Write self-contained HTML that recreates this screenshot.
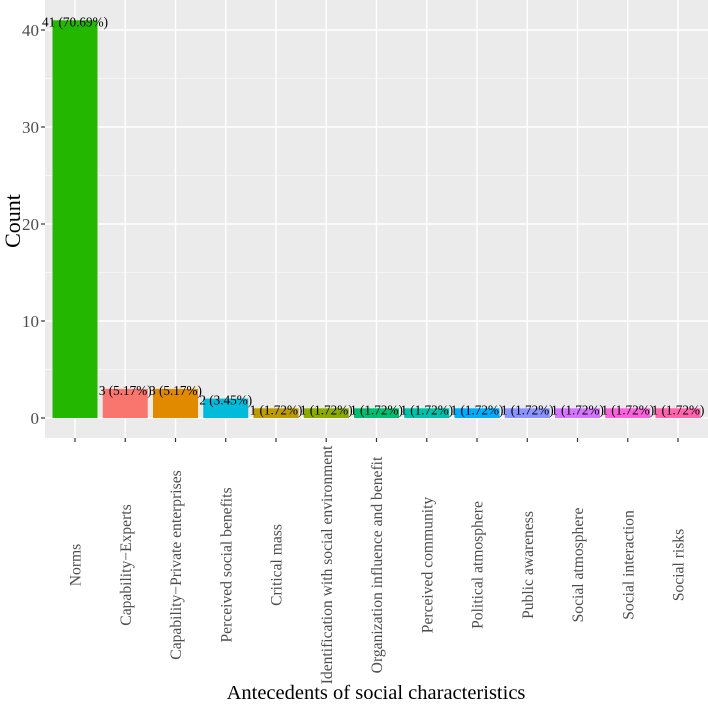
<!DOCTYPE html>
<html><head><meta charset="utf-8"><style>
html,body{margin:0;padding:0;background:#fff;}
svg{display:block;font-family:"Liberation Serif",serif;}
</style></head><body>
<svg id="chart" width="708" height="704">
<rect x="45" y="0" width="663" height="438" fill="#ebebeb"/>
<g id="grid"></g><g id="bars"></g><g id="labels"></g><g id="axes"></g>
<text x="376" y="699" font-size="20.5" text-anchor="middle">Antecedents of social characteristics</text>
<text transform="translate(20,221) rotate(-90)" font-size="22" text-anchor="middle">Count</text>
</svg>
<script>
const categories=["Norms","Capability\u2212Experts","Capability\u2212Private enterprises","Perceived social benefits","Critical mass","Identification with social environment","Organization influence and benefit","Perceived community","Political atmosphere","Public awareness","Social atmosphere","Social interaction","Social risks"];
const counts=[41,3,3,2,1,1,1,1,1,1,1,1,1];
const percents=["70.69%","5.17%","5.17%","3.45%","1.72%","1.72%","1.72%","1.72%","1.72%","1.72%","1.72%","1.72%","1.72%"];
const colors=["#24B700","#F8766D","#E18A00","#00BBDA","#BE9C00","#8CAB00","#00BE70","#00C1AB","#00ACFC","#8B93FF","#D575FE","#F962DD","#FF65AC"];
const yTicks=[0,10,20,30,40];
const NS="http://www.w3.org/2000/svg";
const y=v=>418-v*9.7;
const x=i=>75+i*50.25;
const bw=45;
function mk(t,a,p){const e=document.createElementNS(NS,t);for(const k in a)e.setAttribute(k,a[k]);p.appendChild(e);return e;}
const grid=document.getElementById('grid'),bars=document.getElementById('bars'),labels=document.getElementById('labels'),axes=document.getElementById('axes');
for(let v=-5;v<=45;v+=5){const yy=y(v);if(yy<0||yy>438)continue;
const l=mk('line',{x1:45,x2:708,y1:yy,y2:yy,stroke:'#fff','stroke-width':v%10===0?1.4:0.6},grid);

}
categories.forEach((c,i)=>{
const l=mk('line',{x1:x(i),x2:x(i),y1:0,y2:438,stroke:'#fff','stroke-width':1.4},grid);


const r=mk('rect',{x:x(i)-bw/2,y:y(counts[i]),width:bw,height:y(0)-y(counts[i]),fill:colors[i]},bars);


const t=mk('text',{x:x(i),y:y(counts[i])+6,'font-size':13.2,'text-anchor':'middle'},labels);
t.textContent=counts[i]+' ('+percents[i]+')';


const tk=mk('line',{x1:x(i),x2:x(i),y1:438,y2:442,stroke:'#333','stroke-width':1.2},axes);


const tl=mk('text',{transform:'translate('+(x(i)+5.5)+',565) rotate(-90)','font-size':15.6,'text-anchor':'middle',fill:'#4d4d4d'},axes);
tl.textContent=c;


});
yTicks.forEach(v=>{
const tk=mk('line',{x1:41,x2:45,y1:y(v),y2:y(v),stroke:'#333','stroke-width':1.2},axes);


const t=mk('text',{x:39,y:y(v)+6,'font-size':17,'text-anchor':'end',fill:'#4d4d4d'},axes);
t.textContent=v;


});
</script>
</body></html>
